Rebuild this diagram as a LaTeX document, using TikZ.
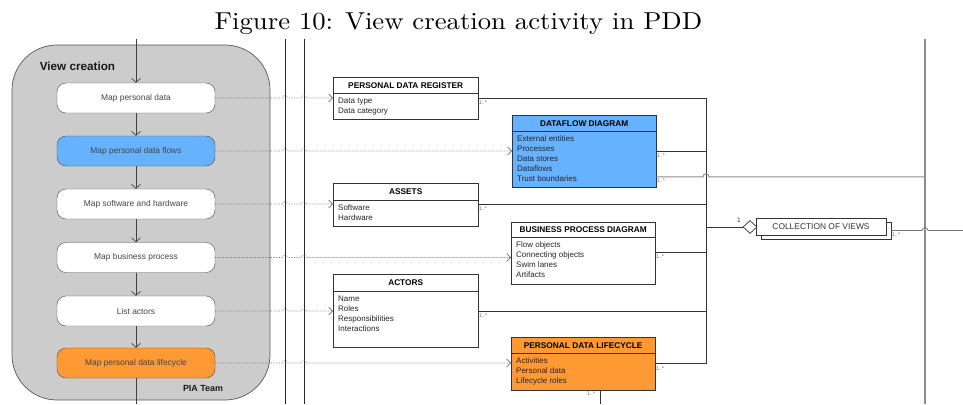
\documentclass[tikz,border=0pt]{standalone}
\usepackage{fontspec}
\setsansfont{Liberation Sans}
\newfontfamily\titlefont{lmroman10-regular.otf}[FakeStretch=1.09]
\usetikzlibrary{arrows.meta,calc,shapes.geometric}

\definecolor{flowblue}{HTML}{66B2FF}
\definecolor{lifeorange}{HTML}{FF9933}
\definecolor{poolgray}{HTML}{CCCCCC}
\definecolor{inkgray}{HTML}{444444}

% dotted dependency from an activity to its view, hopping over the two lanes
\newcommand\depflow[2]{%
  \draw[dep] (#1.east) -- ($(vA |- #1.east)+(-2.5,0)$)
    arc[start angle=180,end angle=360,radius=2.5]
    -- ($(vB |- #1.east)+(-2.5,0)$)
    arc[start angle=180,end angle=360,radius=2.5]
    -- (#2.west |- #1.east);}

\begin{document}
\begin{tikzpicture}[x=1pt,y=-1pt,
  act/.style={draw=black!70, rounded corners=9pt, minimum width=158pt,
    minimum height=30pt, inner sep=0pt, text=inkgray,
    font=\sffamily\fontsize{8.4}{10}\selectfont},
  flow/.style={draw=black!75, line width=0.7pt, -{Straight Barb[length=4pt,width=9pt]}},
  dep/.style={draw=black!55, densely dotted, line width=0.6pt,
    -{Straight Barb[length=4pt,width=8pt]}},
  clshead/.style={draw=black!80, anchor=north west, minimum width=#1,
    minimum height=16pt, inner sep=0pt,
    font=\sffamily\bfseries\fontsize{8.3}{10}\selectfont},
  clsbody/.style={draw=black!80, anchor=north west, minimum width=#1,
    inner sep=0pt},
  items/.style={anchor=north west, align=left, inner sep=0pt, xshift=5pt,
    yshift=-4.5pt, text=black!85, font=\sffamily\fontsize{8}{9.8}\selectfont},
  assoc/.style={draw=black!80, line width=0.7pt},
  mult/.style={inner sep=0pt, text=black!55, font=\sffamily\fontsize{5.5}{6}\selectfont},
  lane/.style={draw=black!85, line width=0.6pt}]
\useasboundingbox (0,0) rectangle (963,404);

% caption
\node[anchor=base] (title) at (458.5,30) {\titlefont\fontsize{24.5}{28}\selectfont Figure 10: View creation activity in PDD};

% lanes
\coordinate (vA) at (285,39);
\coordinate (vAend) at (285,404);
\coordinate (vB) at (304,39);
\coordinate (vBend) at (304,404);
\coordinate (vC) at (925,39);
\coordinate (vCend) at (925,404);
\draw[lane] (vA) -- (vAend);
\draw[lane] (vB) -- (vBend);
\draw[draw=black!45, line width=1.2pt] (vC) -- (vCend);

% activity pool
\node[draw=black!65, fill=poolgray, rounded corners=45pt, minimum width=258pt,
  minimum height=355pt, line width=0.7pt] (pool) at (141,222.5) {};
\node[font=\sffamily\bfseries\fontsize{11.7}{14}\selectfont, text=black!90] (poolname) at (77.5,66) {View creation};
\node[font=\sffamily\bfseries\fontsize{8.9}{10}\selectfont, text=black!90] (team) at (203,388) {PIA Team};

\node[act, fill=white] (a1) at (136,98) {Map personal data};
\node[act, fill=flowblue] (a2) at (136,151) {Map personal data flows};
\node[act, fill=white] (a3) at (136,204) {Map software and hardware};
\node[act, fill=white] (a4) at (136,257.5) {Map business process};
\node[act, fill=white] (a5) at (136,311) {List actors};
\node[act, fill=lifeorange] (a6) at (136,363) {Map personal data lifecycle};

\coordinate (start) at (136,39);
\coordinate (exit) at (136,404);
\draw[flow] (start) -- (a1.north);
\draw[flow] (a1) -- (a2);
\draw[flow] (a2) -- (a3);
\draw[flow] (a3) -- (a4);
\draw[flow] (a4) -- (a5);
\draw[flow] (a5) -- (a6);
\draw[draw=black!75, line width=0.7pt] (a6.south) -- (exit);

% views
\node[clshead=145pt] (pdrh) at (333,77) {PERSONAL DATA REGISTER};
\node[clsbody=145pt, minimum height=26pt,
  label={[items]north west:Data type\\Data category}] (pdr) at (pdrh.south west) {};

\node[clshead=145pt, minimum height=17pt] (assetsh) at (333,183) {ASSETS};
\node[clsbody=145pt, minimum height=26pt,
  label={[items]north west:Software\\Hardware}] (assets) at (assetsh.south west) {};

\node[clshead=145pt, minimum height=17pt] (actorsh) at (333,274) {ACTORS};
\node[clsbody=145pt, minimum height=56pt,
  label={[items]north west:Name\\Roles\\Responsibilities\\Interactions}] (actors) at (actorsh.south west) {};

\node[clshead=144pt, fill=flowblue] (dfdh) at (512,115) {DATAFLOW DIAGRAM};
\node[clsbody=144pt, fill=flowblue, minimum height=56pt,
  label={[items]north west:External entities\\Processes\\Data stores\\Dataflows\\Trust boundaries}] (dfd) at (dfdh.south west) {};

\node[clshead=144pt, minimum height=15pt] (bpdh) at (511,222) {BUSINESS PROCESS DIAGRAM};
\node[clsbody=144pt, minimum height=47pt,
  label={[items]north west:Flow objects\\Connecting objects\\Swim lanes\\Artifacts}] (bpd) at (bpdh.south west) {};

\node[clshead=144pt, fill=lifeorange] (pdlh) at (511,337) {PERSONAL DATA LIFECYCLE};
\node[clsbody=144pt, fill=lifeorange, minimum height=37pt,
  label={[items]north west:Activities\\Personal data\\Lifecycle roles}] (pdl) at (pdlh.south west) {};

% activity -> view dependencies
\depflow{a1}{pdr}
\depflow{a2}{dfd}
\depflow{a3}{assets}
\depflow{a4}{bpd}
\depflow{a5}{actors}
\depflow{a6}{pdl}

% aggregation into the collection of views
\coordinate (busT) at (706,98);
\coordinate (busB) at (706,363);
\draw[assoc] (pdr.east |- a1) -- (busT) -- (busB) -- (pdl.east |- a6);
\draw[assoc] (dfd.east |- a2) -- (busT |- a2);
\draw[assoc] (assets.east |- a3) -- (busT |- a3);
\draw[assoc] ($(bpd.east)+(0,-8.5)$) coordinate (bpdc) -- (busT |- bpdc);
\draw[assoc] (actors.east |- a5) -- (busT |- a5);
\draw[assoc, draw=black!45, line width=1pt] ($(dfd.south east)+(0,-11)$) coordinate (tb)
  -- ($(busT |- tb)+(-3,0)$) arc[start angle=180,end angle=360,radius=3] -- (vC |- tb);

\node[mult] (m1) at (483,103) {1..*};
\node[mult] (m2) at (661,156) {1..*};
\node[mult] (m3) at (661,181) {1..*};
\node[mult] (m4) at (483,209) {1..*};
\node[mult] (m5) at (660,257) {1..*};
\node[mult] (m6) at (483,316) {1..*};
\node[mult] (m7) at (660,369) {1..*};
\node[mult] (m8) at (591,394) {1..*};

\node[draw=black!80, fill=white, diamond, shape aspect=1, minimum width=14pt,
  minimum height=13pt, inner sep=0pt, line width=0.7pt] (agg) at (750,227) {};
\node[mult, text=black!80, font=\sffamily\fontsize{6.5}{7}\selectfont] (one) at (739,220) {1};
\draw[assoc] (busT |- agg) -- (agg.west);

\node[draw=black!80, fill=white, minimum width=130pt, minimum height=17pt,
  inner sep=0pt, line width=0.7pt] (colb) at (826,230.5) {};
\node[draw=black!80, fill=white, minimum width=130pt, minimum height=17pt,
  inner sep=0pt, line width=0.7pt, text=black!80,
  font=\sffamily\fontsize{8.4}{10}\selectfont] (col) at (821,226.5) {COLLECTION OF VIEWS};
\coordinate (outR) at (963,230.5);
\draw[assoc, draw=black!55] (colb.east) -- ($(vC |- colb.east)+(-3,0)$)
  arc[start angle=180,end angle=360,radius=3] -- (outR);
\node[mult] (m9) at (896,235) {1..*};

\coordinate (pdlout) at (600,404);
\draw[assoc] (pdlout |- pdl.south) -- (pdlout);
\end{tikzpicture}
\end{document}
